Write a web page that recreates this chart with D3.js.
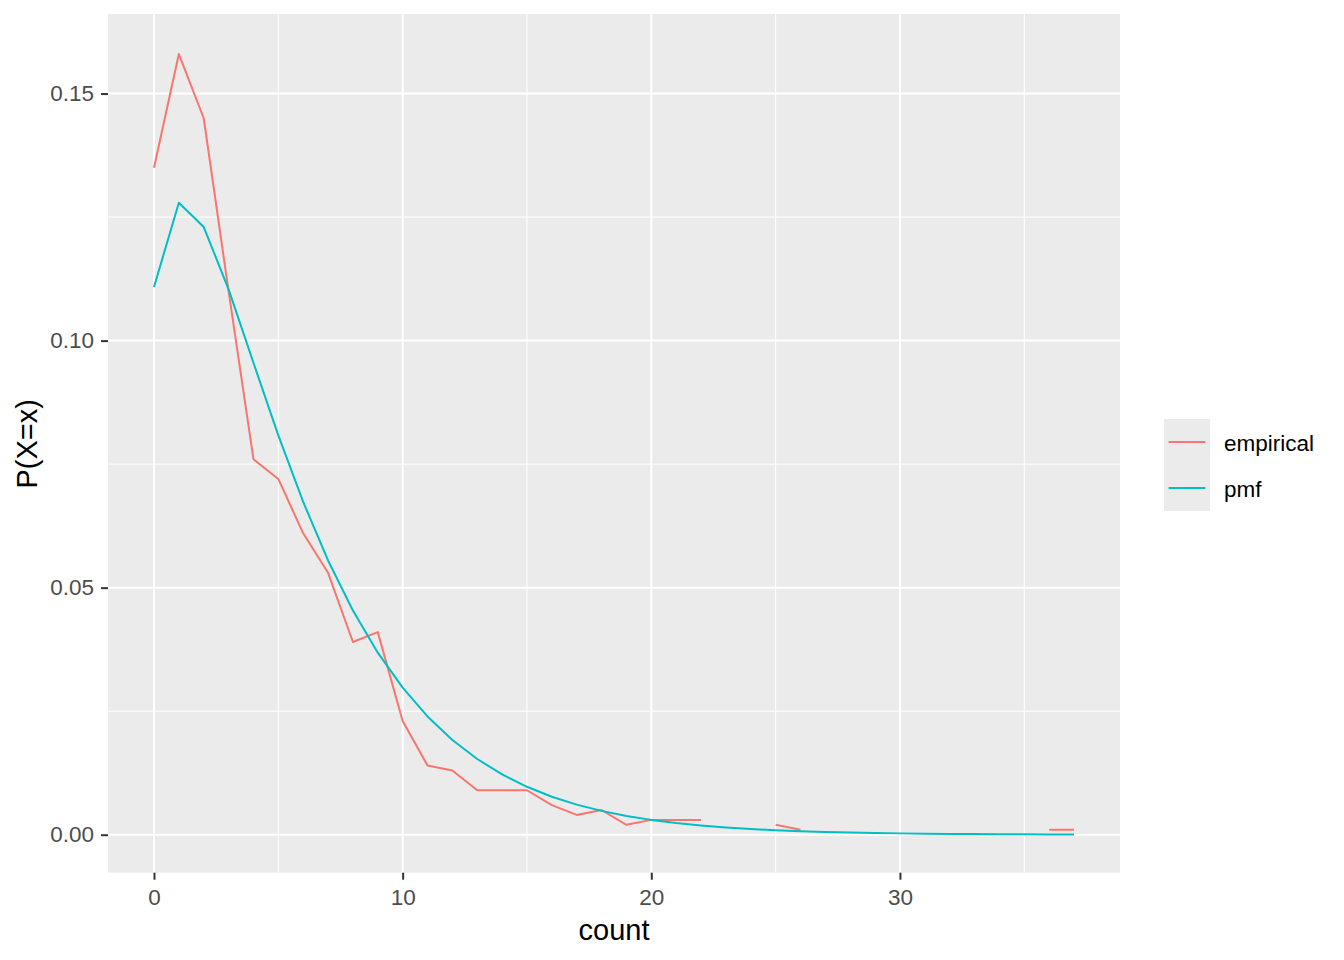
<!DOCTYPE html>
<html>
<head>
<meta charset="utf-8">
<script src="https://cdn.jsdelivr.net/npm/d3@7"></script>
<style>
  html, body { margin: 0; padding: 0; background: #ffffff; }
  svg { display: block; font-family: "Liberation Sans", Arial, sans-serif; }
</style>
</head>
<body>
<svg id="chart" width="1344" height="960"></svg>
<script>
// ---- data ----
const counts = d3.range(0, 38);
const empirical = [0.135, 0.158, 0.145, 0.110, 0.076, 0.072, 0.061, 0.053, 0.039, 0.041,
                   0.023, 0.014, 0.013, 0.009, 0.009, 0.009, 0.006, 0.004, 0.005, 0.002,
                   0.003, 0.003, 0.003, null, null, 0.002, 0.001, null, null, null,
                   null, null, null, null, null, null, 0.001, 0.001];
const pmf = [0.11086, 0.12791, 0.12299, 0.11038, 0.09552, 0.08083, 0.06735, 0.05551, 0.04537, 0.03684,
             0.02976, 0.02393, 0.01917, 0.01532, 0.01220, 0.00970, 0.00769, 0.00609, 0.00482, 0.00380,
             0.00300, 0.00236, 0.00186, 0.00146, 0.00115, 0.00090, 0.00071, 0.00055, 0.00043, 0.00034,
             0.00027, 0.00021, 0.00016, 0.00013, 0.00010, 0.000077, 0.000060, 0.000047];
const seriesNames = ["empirical", "pmf"];
const seriesColors = ["#F8766D", "#00BFC4"];
const xTicks = [0, 10, 20, 30];
const xMinor = [5, 15, 25, 35];
const yTicks = [0, 0.05, 0.10, 0.15];
const yMinor = [0.025, 0.075, 0.125];
const xTitle = "count";
const yTitle = "P(X=x)";

// ---- layout ----
const panel = { left: 108, top: 14, right: 1120, bottom: 873.5 };
const svg = d3.select("#chart");

const allY = empirical.filter(v => v != null).concat(pmf);
const yMinV = d3.min(allY), yMaxV = d3.max(allY);
const yPad = (yMaxV - yMinV) * 0.05;
const xPad = (d3.max(counts) - d3.min(counts)) * 0.05;

const x = d3.scaleLinear()
  .domain([d3.min(counts) - xPad, d3.max(counts) + xPad])
  .range([panel.left, panel.right]);
const y = d3.scaleLinear()
  .domain([yMinV - yPad, yMaxV + yPad])
  .range([panel.bottom, panel.top + 1]);

// panel background
svg.append("rect")
  .attr("x", panel.left).attr("y", panel.top)
  .attr("width", panel.right - panel.left).attr("height", panel.bottom - panel.top - 0.8)
  .attr("fill", "#EBEBEB");

const grid = svg.append("g");
// minor grid
grid.selectAll(".xminor").data(xMinor).join("line")
  .attr("x1", d => x(d)).attr("x2", d => x(d))
  .attr("y1", panel.top).attr("y2", panel.bottom - 0.8)
  .attr("stroke", "#ffffff").attr("stroke-width", 1);
grid.selectAll(".yminor").data(yMinor).join("line")
  .attr("y1", d => y(d)).attr("y2", d => y(d))
  .attr("x1", panel.left).attr("x2", panel.right)
  .attr("stroke", "#ffffff").attr("stroke-width", 1);
// major grid
grid.selectAll(".xmajor").data(xTicks).join("line")
  .attr("x1", d => x(d)).attr("x2", d => x(d))
  .attr("y1", panel.top).attr("y2", panel.bottom - 0.8)
  .attr("stroke", "#ffffff").attr("stroke-width", 2);
grid.selectAll(".ymajor").data(yTicks).join("line")
  .attr("y1", d => y(d)).attr("y2", d => y(d))
  .attr("x1", panel.left).attr("x2", panel.right)
  .attr("stroke", "#ffffff").attr("stroke-width", 2);

// lines
const seriesData = [empirical, pmf];
const line = d3.line()
  .defined(d => d.v != null)
  .x(d => x(d.c))
  .y(d => y(d.v));
seriesData.forEach((vals, i) => {
  const pts = counts.map((c, j) => ({ c: c, v: vals[j] }));
  svg.append("path")
    .datum(pts)
    .attr("d", line)
    .attr("fill", "none")
    .attr("stroke", seriesColors[i])
    .attr("stroke-width", 2)
    .attr("stroke-linejoin", "round");
});

// axes
const xAxis = svg.append("g")
  .attr("transform", `translate(0,${panel.bottom - 0.8})`)
  .call(d3.axisBottom(x).tickValues(xTicks).tickSize(7).tickPadding(9).tickFormat(d3.format("d")));
const yAxis = svg.append("g")
  .attr("transform", `translate(${panel.left},0)`)
  .call(d3.axisLeft(y).tickValues(yTicks).tickSize(7).tickPadding(7).tickFormat(d3.format(".2f")));
[xAxis, yAxis].forEach(a => {
  a.select(".domain").remove();
  a.selectAll(".tick line").attr("stroke", "#333333").attr("stroke-width", 2);
  a.selectAll(".tick text").attr("fill", "#4D4D4D").style("font-size", "22.5px")
    .style("font-family", "'Liberation Sans', Arial, sans-serif");
});

// axis titles
svg.append("text")
  .attr("x", (panel.left + panel.right) / 2).attr("y", 940)
  .attr("text-anchor", "middle").attr("fill", "#000000")
  .style("font-size", "29px").text(xTitle);
svg.append("text")
  .attr("transform", `translate(37,${(panel.top + panel.bottom) / 2}) rotate(-90)`)
  .attr("text-anchor", "middle").attr("fill", "#000000")
  .style("font-size", "29px").text(yTitle);

// legend
const legend = svg.append("g").attr("transform", "translate(1164,419)");
const keyW = 46, keyH = 46;
seriesNames.forEach((name, i) => {
  const g = legend.append("g").attr("transform", `translate(0,${i * keyH})`);
  g.append("rect").attr("x", 0).attr("y", 0).attr("width", keyW).attr("height", keyH)
    .attr("fill", "#EBEBEB");
  g.append("line").attr("x1", 4.6).attr("x2", keyW - 4.6)
    .attr("y1", keyH / 2).attr("y2", keyH / 2)
    .attr("stroke", seriesColors[i]).attr("stroke-width", 2);
  g.append("text").attr("x", 60).attr("y", keyH / 2 + 1)
    .attr("dy", "0.35em").attr("fill", "#000000")
    .style("font-size", "22.5px").text(name);
});
</script>
</body>
</html>
